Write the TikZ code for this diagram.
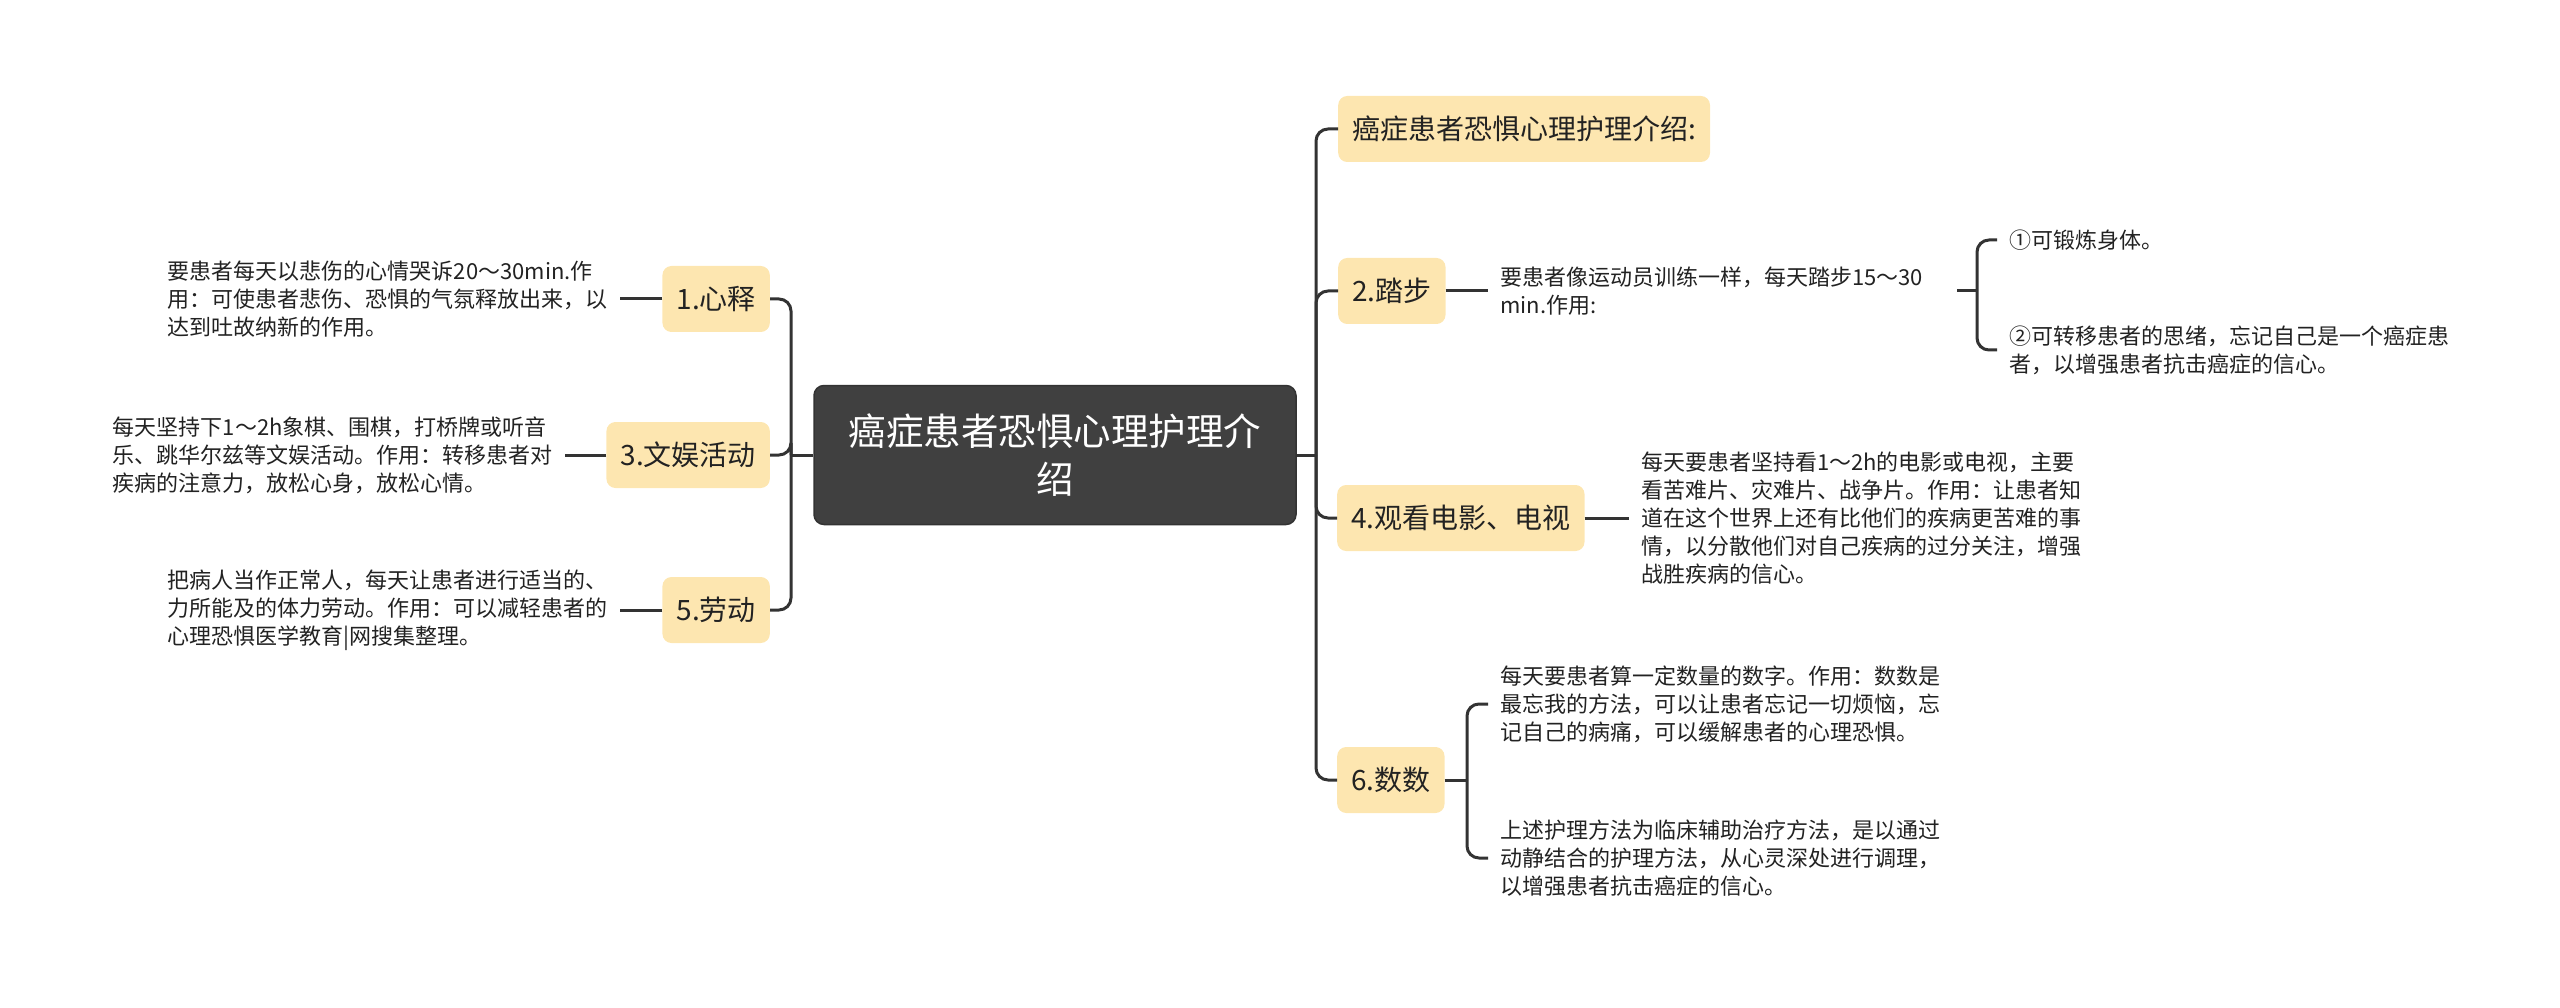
\documentclass[tikz,border=0pt]{standalone}
\usepackage{fontspec}
\setmainfont{Noto Sans CJK SC}
\usepackage{tikz}
\usepackage{xcolor}
\definecolor{topicfill}{RGB}{253,230,176}
\definecolor{rootfill}{RGB}{64,64,64}
\definecolor{linkgray}{RGB}{51,51,51}
\definecolor{notetext}{RGB}{34,34,34}

\begin{document}
\begin{tikzpicture}[x=1pt, y=-1pt,
    root/.style={fill=rootfill, draw=linkgray, line width=1.5pt, rounded corners=10pt, text=white, minimum width=482pt, minimum height=139pt, text width=440pt, align=center, font=\fontsize{37.5}{48}\selectfont},
    topic/.style={fill=topicfill, rounded corners=9pt, minimum height=66pt, inner xsep=14pt, text=notetext, font=\fontsize{28}{34}\selectfont},
    note/.style={inner xsep=12pt, inner ysep=0pt, align=left, text=notetext, font=\fontsize{22}{28}\selectfont},
    link/.style={draw=linkgray, line width=3pt, rounded corners=12pt}]
    \useasboundingbox (0,0) rectangle (2560,1008);
    \node[root] (root) at (1055,455) {癌症患者恐惧心理护理介\\绍};
    \coordinate (rtrunk) at (1316,455);
    \coordinate (ltrunk) at (791,455);
    % right side
    \node[topic, anchor=west] (intro) at (1338,129) {癌症患者恐惧心理护理介绍:};
    \node[topic, anchor=west] (step) at (1338,291) {2.踏步};
    \node[topic, anchor=west] (film) at (1337,518) {4.观看电影、电视};
    \node[topic, anchor=west] (count) at (1337,780) {6.数数};
    \node[note, anchor=west, text width=445pt] (stepnote) at (1488,291) {要患者像运动员训练一样，每天踏步15～30\\min.作用:};
    \node[note, anchor=west] (stepa) at (1997,240) {①可锻炼身体。};
    \node[note, anchor=west] (stepb) at (1997,350) {②可转移患者的思绪，忘记自己是一个癌症患\\者，以增强患者抗击癌症的信心。};
    \node[note, anchor=west] (filmnote) at (1629,518) {每天要患者坚持看1～2h的电影或电视，主要\\看苦难片、灾难片、战争片。作用：让患者知\\道在这个世界上还有比他们的疾病更苦难的事\\情，以分散他们对自己疾病的过分关注，增强\\战胜疾病的信心。};
    \node[note, anchor=west] (counta) at (1488,704) {每天要患者算一定数量的数字。作用：数数是\\最忘我的方法，可以让患者忘记一切烦恼，忘\\记自己的病痛，可以缓解患者的心理恐惧。};
    \node[note, anchor=west] (countb) at (1488,858) {上述护理方法为临床辅助治疗方法，是以通过\\动静结合的护理方法，从心灵深处进行调理，\\以增强患者抗击癌症的信心。};
    \coordinate (stepfork) at (1977,291);
    \coordinate (countfork) at (1467,780);
    % left side
    \node[topic, anchor=east] (release) at (770,299) {1.心释};
    \node[topic, anchor=east] (leisure) at (770,455) {3.文娱活动};
    \node[topic, anchor=east] (labour) at (770,610) {5.劳动};
    \node[note, anchor=east] (releasenote) at (620,299) {要患者每天以悲伤的心情哭诉20～30min.作\\用：可使患者悲伤、恐惧的气氛释放出来，以\\达到吐故纳新的作用。};
    \node[note, anchor=east] (leisurenote) at (565,455) {每天坚持下1～2h象棋、围棋，打桥牌或听音\\乐、跳华尔兹等文娱活动。作用：转移患者对\\疾病的注意力，放松心身，放松心情。};
    \node[note, anchor=east] (labournote) at (620,610) {把病人当作正常人，每天让患者进行适当的、\\力所能及的体力劳动。作用：可以减轻患者的\\心理恐惧医学教育|网搜集整理。};
    % connectors
    \draw[link] (root.east) -- (rtrunk);
    \draw[link] (root.west) -- (ltrunk);
    \foreach \n in {intro,step,film,count}
        \draw[link] (rtrunk) |- (\n.west);
    \foreach \n in {release,leisure,labour}
        \draw[link] (ltrunk) |- (\n.east);
    \draw[link] (step.east) -- (stepnote.west);
    \draw[link] (stepnote.east) -- (stepfork);
    \draw[link] (stepfork) |- (stepa.west);
    \draw[link] (stepfork) |- (stepb.west);
    \draw[link] (film.east) -- (filmnote.west);
    \draw[link] (count.east) -- (countfork);
    \draw[link] (countfork) |- (counta.west);
    \draw[link] (countfork) |- (countb.west);
    \draw[link] (release.west) -- (releasenote.east);
    \draw[link] (leisure.west) -- (leisurenote.east);
    \draw[link] (labour.west) -- (labournote.east);
\end{tikzpicture}
\end{document}
